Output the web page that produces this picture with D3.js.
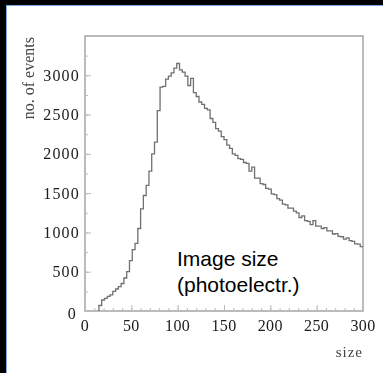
<!DOCTYPE html>
<html>
<head>
<meta charset="utf-8">
<script src="https://cdn.jsdelivr.net/npm/d3@7"></script>
<style>
  html, body { margin: 0; padding: 0; background: #000; }
  svg { display: block; }
</style>
</head>
<body>
<script>
// Histogram of image size (photoelectrons), bins of width 3 from 0 to 300
const binWidth = 3;
const binStarts = d3.range(0, 300, binWidth);
const counts = [
  0, 0, 0, 0, 0,
  70, 140, 160, 185, 205, 250, 280, 310, 350, 420, 500, 640, 780, 860, 1050,
  1300, 1470, 1600, 1780, 2000, 2150, 2550, 2850, 2860, 2950, 2990, 3030, 3090, 3150, 3070,
  3040, 2990, 2870, 2960, 2780, 2730, 2660, 2630, 2580, 2560, 2450, 2400, 2320, 2290, 2220,
  2180, 2110, 2070, 2000, 1980, 1940, 1930, 1890, 1880, 1780, 1830, 1690, 1690, 1620, 1610,
  1560, 1550, 1490, 1480, 1430, 1410, 1360, 1350, 1310, 1310, 1270, 1250, 1190, 1210, 1150,
  1140, 1100, 1150, 1080, 1080, 1050, 1060, 1020, 1020, 980, 985, 950, 945, 915, 930,
  895, 885, 855, 850, 820
];
const xTicks = [0, 50, 100, 150, 200, 250, 300];
const yTicks = [0, 500, 1000, 1500, 2000, 2500, 3000];
const xLabel = "size";
const yLabel = "no. of events";
const noteLines = ["Image size", "(photoelectr.)"];

const W = 383, H = 373;
const svg = d3.select("body").append("svg").attr("width", W).attr("height", H);

// page: black frame on the top and left, white sheet with a thin blue edge
svg.append("rect").attr("width", W).attr("height", H).attr("fill", "#000");
svg.append("rect").attr("x", 6).attr("y", 5).attr("width", W - 6).attr("height", H - 5).attr("fill", "#fff");
svg.append("line").attr("x1", 6.5).attr("x2", 6.5).attr("y1", 5).attr("y2", H).attr("stroke", "#7fa8e0").attr("stroke-width", 1);
svg.append("line").attr("x1", 6).attr("x2", W).attr("y1", 5.5).attr("y2", 5.5).attr("stroke", "#7fa8e0").attr("stroke-width", 1);

const defs = svg.append("defs");
defs.append("filter").attr("id", "soft").append("feGaussianBlur").attr("stdDeviation", 0.65);

const x = d3.scaleLinear().domain([0, 300]).range([85, 363]);
const y = d3.scaleLinear().domain([0, 3500]).range([311, 36]);

const g = svg.append("g").attr("filter", "url(#soft)");

// frame
g.append("rect")
  .attr("x", x(0)).attr("y", y(3500))
  .attr("width", x(300) - x(0)).attr("height", y(0) - y(3500))
  .attr("fill", "none").attr("stroke", "#aaa").attr("stroke-width", 1.6);

// axes with inward ticks
const tickColor = "#bbb";
const xMajor = d3.axisBottom(x).tickValues(xTicks).tickSize(-6).tickFormat("");
const xMinor = d3.axisBottom(x).tickValues(d3.range(0, 301, 10)).tickSize(-3).tickFormat("");
const yMajor = d3.axisLeft(y).tickValues(yTicks).tickSize(-6).tickFormat("");
const yMinor = d3.axisLeft(y).tickValues(d3.range(0, 3501, 250)).tickSize(-3).tickFormat("");
[[xMinor, "x"], [xMajor, "x"], [yMinor, "y"], [yMajor, "y"]].forEach(([ax, k]) => {
  const a = g.append("g")
    .attr("transform", k === "x" ? `translate(0,${y(0)})` : `translate(${x(0)},0)`)
    .call(ax);
  a.select(".domain").remove();
  a.selectAll("line").attr("stroke", tickColor).attr("stroke-width", 1);
});

// tick labels
const labelFont = "'Liberation Serif', 'DejaVu Serif', serif";
g.selectAll("text.xt").data(xTicks).join("text")
  .attr("x", d => x(d)).attr("y", 331)
  .attr("text-anchor", "middle")
  .attr("font-family", labelFont).attr("font-size", 16).attr("fill", "#1a1a1a")
  .attr("letter-spacing", 0.4)
  .text(d => d);
g.selectAll("text.yt").data(yTicks).join("text")
  .attr("x", d => d === 0 ? 77 : 80).attr("y", d => y(d) + (d === 0 ? 2 : 0))
  .attr("dy", "0.35em")
  .attr("text-anchor", "end")
  .attr("font-family", labelFont).attr("font-size", 16).attr("fill", "#1a1a1a")
  .attr("letter-spacing", 1.2)
  .text(d => d);

// axis titles
g.append("text")
  .attr("x", 363).attr("y", 357)
  .attr("text-anchor", "end")
  .attr("font-family", labelFont).attr("font-size", 15).attr("fill", "#444")
  .attr("letter-spacing", 1)
  .text(xLabel);
g.append("text")
  .attr("transform", `translate(34,37) rotate(-90)`)
  .attr("text-anchor", "end")
  .attr("font-family", labelFont).attr("font-size", 16).attr("fill", "#444")
  .text(yLabel);

// histogram outline as a step line
const first = counts.findIndex(c => c > 0);
const pts = [[binStarts[first], 0]];
for (let i = first; i < counts.length; i++) {
  pts.push([binStarts[i], counts[i]]);
  pts.push([binStarts[i] + binWidth, counts[i]]);
}
const line = d3.line().x(d => x(d[0])).y(d => y(d[1]));
g.append("path")
  .attr("d", line(pts))
  .attr("fill", "none").attr("stroke", "#707070").attr("stroke-width", 1.3)
  .attr("stroke-linejoin", "miter");

// annotation
const note = svg.append("text")
  .attr("font-family", "'Liberation Sans', Arial, sans-serif")
  .attr("font-size", 21).attr("fill", "#000");
noteLines.forEach((t, i) => {
  note.append("tspan").attr("x", 177).attr("y", 266 + i * 26).text(t);
});
</script>
</body>
</html>
